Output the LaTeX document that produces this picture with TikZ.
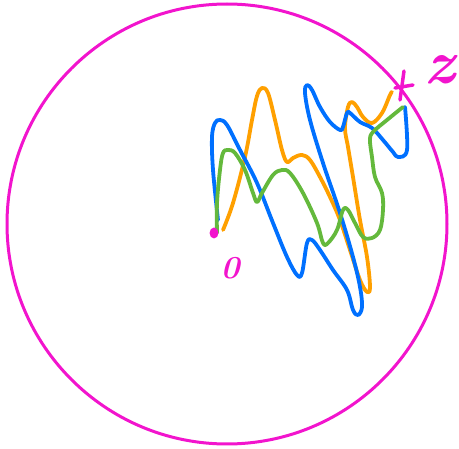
\documentclass[tikz,border=0pt]{standalone}
\definecolor{pen}{RGB}{242,20,205}
\definecolor{orng}{RGB}{255,160,0}
\definecolor{blu}{RGB}{0,112,255}
\definecolor{grn}{RGB}{100,185,60}
\begin{document}
\begin{tikzpicture}[x=1pt,y=-1pt,line join=round,line cap=round,
	scribble/.style={line width=3.8pt,smooth,tension=0.6}]
			\useasboundingbox (0,0) rectangle (459,449);
			\path
			(227,224) coordinate (C)
			(214,233) coordinate (O)
			(403,87) coordinate (Z);
			\draw[pen,line width=3pt] (C) circle (220pt);
			% the three paths from 0 to z
			\draw[orng,scribble] plot coordinates {(223,230) (233,203) (245,157) (252,120) (257,96) (262,88) (268,93) (275,120) (282,150) (287,162) (293,158) (302,155) (310,160) (320,177) (330,197) (340,220) (350,250) (360,280) (367,292) (370,287) (367,257) (360,220) (353,177) (348,147) (345,128) (348,107) (352,102) (357,107) (363,117) (372,123) (382,113) (390,95) (392,92)};
			\draw[blu,scribble] plot coordinates {(218,220) (213,170) (212,137) (215,123) (220,120) (227,125) (240,150) (257,183) (273,223) (287,257) (297,275) (302,273) (307,243) (312,240) (320,250) (333,270) (347,290) (353,310) (358,315) (362,307) (360,287) (353,257) (340,213) (323,163) (310,120) (305,93) (307,85) (312,90) (320,107) (330,122) (340,130) (343,127) (347,113) (350,113) (360,122) (372,128) (383,140) (393,152) (398,157) (407,150) (405,107)};
			\draw[grn,scribble] plot coordinates {(217,233) (217,203) (220,170) (223,153) (228,150) (235,153) (245,170) (253,193) (257,202) (262,193) (273,175) (282,170) (290,173) (303,193) (317,223) (323,243) (328,243) (337,230) (343,210) (348,210) (355,223) (363,237) (372,238) (380,230) (383,210) (382,193) (375,177) (372,157) (370,140) (373,132) (387,120) (403,107)};
			% end points
			\fill[pen] (O) ellipse (4.5pt and 5.5pt);
			\draw[pen,line width=3.5pt] ([shift={(-8,1)}]Z)--([shift={(10,-2)}]Z)
			([shift={(1,-16)}]Z)--([shift={(-3,13)}]Z);
			\node[pen,font=\fontsize{32}{34}\selectfont\bfseries\itshape] (zero) at (230,268) {0};
			\node[pen,font=\fontsize{62}{64}\selectfont\bfseries\itshape] (zlabel) at (440,70) {z};
		\end{tikzpicture}
\end{document}
